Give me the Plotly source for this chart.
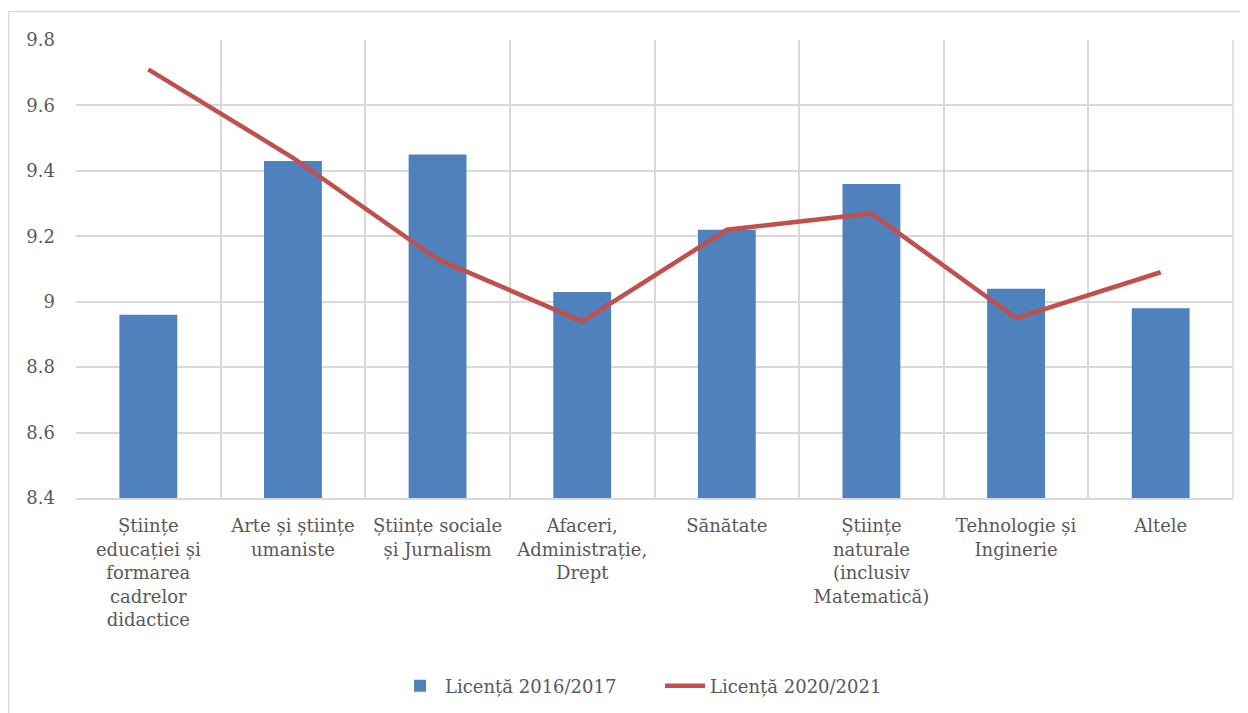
import plotly.graph_objects as go

categories = [
    "Științe<br>educației și<br>formarea<br>cadrelor<br>didactice",
    "Arte și științe<br>umaniste",
    "Științe sociale<br>și Jurnalism",
    "Afaceri,<br>Administrație,<br>Drept",
    "Sănătate",
    "Științe<br>naturale<br>(inclusiv<br>Matematică)",
    "Tehnologie și<br>Inginerie",
    "Altele",
]
licenta_2016_2017 = [8.96, 9.43, 9.45, 9.03, 9.22, 9.36, 9.04, 8.98]
licenta_2020_2021 = [9.71, 9.44, 9.13, 8.94, 9.22, 9.27, 8.95, 9.09]
y_ticks = [8.4, 8.6, 8.8, 9.0, 9.2, 9.4, 9.6, 9.8]
y_tick_labels = ["8.4", "8.6", "8.8", "9", "9.2", "9.4", "9.6", "9.8"]

FONT = "DejaVu Serif"
TXT = "#595959"
GRID = "#D9D9D9"

fig = go.Figure()
fig.add_trace(go.Bar(
    x=categories, y=licenta_2016_2017, name="Licență 2016/2017",
    marker=dict(color="#4F81BD", line=dict(width=0)),
))
fig.add_trace(go.Scatter(
    x=categories, y=licenta_2020_2021, name="Licență 2020/2021",
    mode="lines", line=dict(color="#C0504D", width=4.5),
))

# page body offset of 8px is compensated
OFF = 8
L, R, T, B = 76 - OFF, 15, 40 - OFF, 215
W, H = 1248 - OFF, 713 - OFF
pw, ph = W - L - R, H - T - B

def px_to_paper_x(px):
    return (px - OFF - L) / pw

def px_to_paper_y(py):
    return (H - B - (py - OFF)) / ph

fig.update_layout(
    width=W, height=H,
    margin=dict(l=L, r=R, t=T, b=B, pad=0, autoexpand=False),
    paper_bgcolor="white", plot_bgcolor="white",
    font=dict(family=FONT, size=18, color=TXT),
    bargap=0.6,
    showlegend=True,
    legend=dict(orientation="h", x=px_to_paper_x(660), xanchor="center",
                y=px_to_paper_y(686), yanchor="middle",
                font=dict(family=FONT, size=18, color=TXT),
                itemwidth=40, tracegroupgap=0,
                entrywidth=210, entrywidthmode="pixels"),
    xaxis=dict(
        type="category", tickson="boundaries",
        showgrid=True, gridcolor=GRID, gridwidth=1.5,
        showline=True, linecolor=GRID, linewidth=1.5,
        ticks="", tickfont=dict(family=FONT, size=18, color=TXT),
        ticklabelstandoff=11,
        range=[-0.5, 7.5],
        automargin=False,
    ),
    yaxis=dict(
        range=[8.4, 9.8], tickvals=y_ticks, ticktext=y_tick_labels,
        showgrid=True, gridcolor=GRID, gridwidth=1.5,
        zeroline=False, showline=False, ticks="",
        tickfont=dict(family=FONT, size=18, color=TXT),
        ticklabelstandoff=20,
        automargin=False,
    ),
    shapes=[
        dict(type="line", xref="paper", yref="paper",
             x0=px_to_paper_x(8.5), x1=px_to_paper_x(1260),
             y0=px_to_paper_y(11.5), y1=px_to_paper_y(11.5),
             line=dict(color=GRID, width=1.5)),
        dict(type="line", xref="paper", yref="paper",
             x0=px_to_paper_x(8.5), x1=px_to_paper_x(8.5),
             y0=px_to_paper_y(11.5), y1=px_to_paper_y(730),
             line=dict(color=GRID, width=1.5)),
        dict(type="line", xref="paper", yref="paper",
             x0=1, x1=1, y0=0, y1=1,
             line=dict(color=GRID, width=1.5)),
    ],
)

fig.write_html("out.html")
